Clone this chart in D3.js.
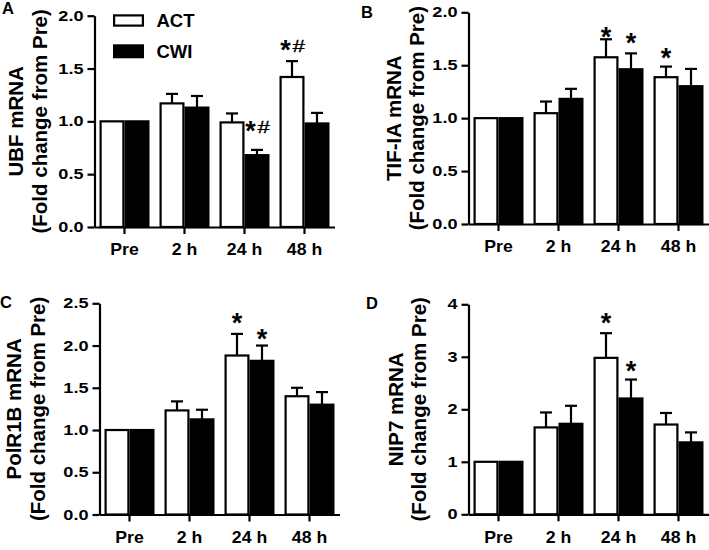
<!DOCTYPE html>
<html><head><meta charset="utf-8">
<script src="https://cdn.jsdelivr.net/npm/d3@7"></script>
<style>body{margin:0;background:#fff}svg{display:block}</style>
</head><body><svg id="c" width="709" height="550"></svg>
<script>
// ---------- data ----------
const groups = ["Pre", "2 h", "24 h", "48 h"];
const seriesNames = ["ACT", "CWI"];

const ubfACT = [1.00, 1.17, 0.99, 1.42];
const ubfACTsem = [0, 0.09, 0.085, 0.15];
const ubfCWI = [1.00, 1.13, 0.68, 0.98];
const ubfCWIsem = [0, 0.11, 0.05, 0.10];
const ubfTicks = [0, 0.5, 1.0, 1.5, 2.0];
const ubfMarks = [["24 h", "CWI", "*#", 0.947], ["48 h", "ACT", "*#", 1.713]];

const tifACT = [1.00, 1.047, 1.575, 1.387];
const tifACTsem = [0, 0.11, 0.17, 0.10];
const tifCWI = [1.00, 1.182, 1.462, 1.302];
const tifCWIsem = [0, 0.095, 0.15, 0.163];
const tifTicks = [0, 0.5, 1.0, 1.5, 2.0];
const tifMarks = [["24 h", "ACT", "*", 1.811], ["24 h", "CWI", "*", 1.748], ["48 h", "ACT", "*", 1.615]];

const polACT = [1.00, 1.232, 1.882, 1.40];
const polACTsem = [0, 0.107, 0.256, 0.10];
const polCWI = [1.00, 1.126, 1.819, 1.30];
const polCWIsem = [0, 0.114, 0.181, 0.149];
const polTicks = [0, 0.5, 1.0, 1.5, 2.0, 2.5];
const polMarks = [["24 h", "ACT", "*", 2.325], ["24 h", "CWI", "*", 2.136]];

const nipACT = [1.00, 1.655, 2.98, 1.71];
const nipACTsem = [0, 0.285, 0.47, 0.22];
const nipCWI = [1.00, 1.724, 2.206, 1.37];
const nipCWIsem = [0, 0.343, 0.361, 0.19];
const nipTicks = [0, 1, 2, 3, 4];
const nipMarks = [["24 h", "ACT", "*", 3.72], ["24 h", "CWI", "*", 2.815]];

// ---------- layout ----------
const FONT = "'Liberation Sans', Arial, Helvetica, sans-serif";
const SW = 2.2;
const svg = d3.select("#c");

// glyph ink metrics via canvas
const ctx = document.createElement("canvas").getContext("2d");
function ink(ch, weight) {
  ctx.font = `${weight} 100px ${FONT}`;
  const m = ctx.measureText(ch);
  return {l: m.actualBoundingBoxLeft, r: m.actualBoundingBoxRight,
          a: m.actualBoundingBoxAscent, d: m.actualBoundingBoxDescent};
}
const starM = ink("*", "bold");
const hashM = ink("#", "normal");
const STAR_W = 10.5, HASH_W = 12.5, HASH_H = 11.5;

function drawStar(g, cx, cy) {
  const fs = 100 * STAR_W / (starM.l + starM.r);
  const k = fs / 100;
  const x = cx - (starM.r - starM.l) * k / 2;
  const base = cy + (starM.a - starM.d) * k / 2;
  g.append("text").attr("x", x).attr("y", base).attr("font-family", FONT)
    .attr("font-weight", "bold").attr("font-size", fs).attr("fill", "#000").text("*");
  return {top: base - starM.a * k, bottom: base + starM.d * k};
}
function drawHash(g, left, top) {
  const fs = 100 * HASH_H / (hashM.a + hashM.d);
  const k = fs / 100;
  const sx = HASH_W / ((hashM.l + hashM.r) * k);
  const base = top + hashM.a * k;
  g.append("text").attr("transform", `translate(${left + hashM.l * k * sx},${base}) scale(${sx},1)`)
    .attr("font-family", FONT).attr("font-size", fs).attr("fill", "#000")
    .attr("stroke", "#000").attr("stroke-width", 0.35).text("#");
}

const panels = [
  {label: "A", lx: 2, ly: 14, ax: 94.5, y0: 227, yTop: 15.7, ticks: ubfTicks, fmt: d3.format(".1f"),
   title: ["UBF mRNA", "(Fold change from Pre)"], tx: [23, 47],
   act: ubfACT, actSem: ubfACTsem, cwi: ubfCWI, cwiSem: ubfCWIsem, marks: ubfMarks, legend: true},
  {label: "B", lx: 361, ly: 18, ax: 468.5, y0: 224, yTop: 12.3, ticks: tifTicks, fmt: d3.format(".1f"),
   title: ["TIF-IA mRNA", "(Fold change from Pre)"], tx: [401, 424],
   act: tifACT, actSem: tifACTsem, cwi: tifCWI, cwiSem: tifCWIsem, marks: tifMarks},
  {label: "C", lx: 0, ly: 308, ax: 99.5, y0: 514.5, yTop: 303.3, ticks: polTicks, fmt: d3.format(".1f"),
   title: ["PolR1B mRNA", "(Fold change from Pre)"], tx: [21, 45],
   act: polACT, actSem: polACTsem, cwi: polCWI, cwiSem: polCWIsem, marks: polMarks},
  {label: "D", lx: 366, ly: 308.5, ax: 468.5, y0: 514.3, yTop: 304.3, ticks: nipTicks, fmt: d3.format("d"),
   title: ["NIP7 mRNA", "(Fold change from Pre)"], tx: [403, 426],
   act: nipACT, actSem: nipACTsem, cwi: nipCWI, cwiSem: nipCWIsem, marks: nipMarks}
];

function drawPanel(p) {
  const g = svg.append("g");
  const x = d3.scaleBand().domain(groups).range([p.ax, p.ax + 240]).paddingInner(1/6).paddingOuter(1/12);
  const sub = d3.scaleBand().domain(seriesNames).range([0, x.bandwidth()]);
  const y = d3.scaleLinear().domain([0, p.ticks[p.ticks.length - 1]]).range([p.y0, p.yTop]);

  const rows = [];
  groups.forEach((grp, i) => {
    rows.push({grp, s: "ACT", v: p.act[i], e: p.actSem[i]});
    rows.push({grp, s: "CWI", v: p.cwi[i], e: p.cwiSem[i]});
  });

  const eb = g.append("g").attr("stroke", "#000").attr("stroke-width", SW).attr("fill", "none");
  rows.filter(r => r.e > 0).forEach(r => {
    const cx = x(r.grp) + sub(r.s) + sub.bandwidth() / 2;
    eb.append("line").attr("x1", cx).attr("x2", cx).attr("y1", y(r.v)).attr("y2", y(r.v + r.e));
    eb.append("line").attr("x1", cx - 6).attr("x2", cx + 6).attr("y1", y(r.v + r.e)).attr("y2", y(r.v + r.e));
  });

  g.append("g").selectAll("rect").data(rows).join("rect")
    .attr("x", r => x(r.grp) + sub(r.s) + SW / 2)
    .attr("width", sub.bandwidth() - SW)
    .attr("y", r => y(r.v))
    .attr("height", r => y(0) - y(r.v))
    .attr("fill", r => r.s === "ACT" ? "#fff" : "#000")
    .attr("stroke", "#000").attr("stroke-width", SW);

  const xa = g.append("g").attr("transform", `translate(0,${p.y0})`)
    .call(d3.axisBottom(x).tickSize(7).tickSizeOuter(0).tickPadding(9.5));
  const ya = g.append("g").attr("transform", `translate(${p.ax},0)`)
    .call(d3.axisLeft(y).tickValues(p.ticks).tickFormat(p.fmt).tickSize(7).tickSizeOuter(0).tickPadding(4));
  [xa, ya].forEach(a => {
    a.attr("font-family", FONT).attr("font-weight", "bold");
    a.selectAll("path,line").attr("stroke", "#000").attr("stroke-width", SW);
    a.selectAll("text").attr("fill", "#000");
  });
  xa.attr("font-size", 16.5);
  ya.attr("font-size", 14.5);
  ya.selectAll(".tick text").each(function () {
    const w = this.getComputedTextLength();
    d3.select(this).attr("textLength", w * 1.25).attr("lengthAdjust", "spacingAndGlyphs");
  });
  xa.selectAll(".tick text").each(function () {
    const w = this.getComputedTextLength();
    d3.select(this).attr("textLength", w * 1.07).attr("lengthAdjust", "spacingAndGlyphs");
  });

  const cy = (p.y0 + p.yTop) / 2;
  p.title.forEach((t, i) => {
    g.append("text").attr("transform", `translate(${p.tx[i]},${cy}) rotate(-90)`)
      .attr("text-anchor", "middle").attr("font-family", FONT).attr("font-weight", "bold")
      .attr("font-size", 20.5).attr("fill", "#000").text(t);
  });

  g.append("text").attr("x", p.lx).attr("y", p.ly).attr("font-family", FONT)
    .attr("font-weight", "bold").attr("font-size", 16.5).text(p.label);

  p.marks.forEach(([grp, s, lab, at]) => {
    const cx = x(grp) + sub(s) + sub.bandwidth() / 2;
    const cyy = y(at);
    if (lab === "*") {
      drawStar(g, cx, cyy);
    } else {
      const box = drawStar(g, cx - 6.5, cyy);
      drawHash(g, cx + 0.5, box.top);
    }
  });

  if (p.legend) {
    const lg = g.append("g");
    const boxes = [{s: "ACT", y: 14.3, h: 12.4, fill: "#fff"}, {s: "CWI", y: 44.3, h: 14, fill: "#000"}];
    boxes.forEach(b => {
      lg.append("rect").attr("x", 113 + SW / 2).attr("y", b.y + SW / 2).attr("width", 31 - SW)
        .attr("height", b.h - SW).attr("fill", b.fill).attr("stroke", "#000").attr("stroke-width", SW);
      lg.append("text").attr("x", 156.5).attr("y", b.y + b.h).attr("font-family", FONT)
        .attr("font-weight", "bold").attr("font-size", 18.5).text(b.s);
    });
  }
}

panels.forEach(drawPanel);
</script></body></html>
